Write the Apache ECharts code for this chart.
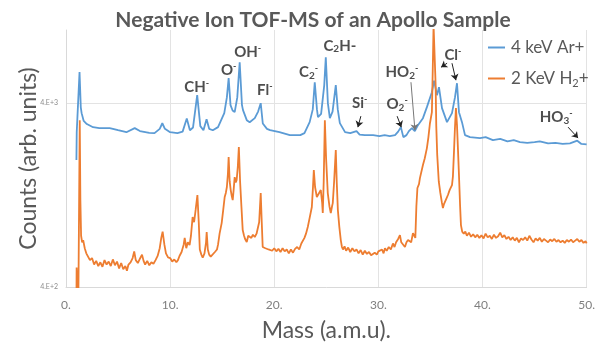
<!DOCTYPE html>
<html>
<head>
<meta charset="utf-8">
<script src="https://cdn.jsdelivr.net/npm/echarts@6/dist/echarts.min.js"></script>
<style>
  html, body { margin: 0; padding: 0; background: #fff; }
  #chart { width: 598px; height: 347px; }
</style>
</head>
<body>
<div id="chart"></div>
<script>
// 4 keV Ar+ spectrum (blue)
const arMass = [1.00,1.03,1.20,1.30,1.42,1.50,1.70,2.0,2.6,3.2,4.2,5.0,5.8,6.6,7.1,8.0,8.5,9.0,9.25,9.5,10.0,10.7,11.2,11.6,11.9,12.2,12.6,12.9,13.2,13.5,13.75,14.1,14.6,15.2,15.45,15.62,15.8,16.0,16.2,16.45,16.68,16.9,17.0,17.36,17.64,18.13,18.45,18.7,18.9,19.3,19.6,20.5,21.5,22.5,22.9,23.4,23.7,23.89,24.1,24.2,24.5,24.8,24.95,25.15,25.34,25.6,25.91,26.1,26.3,26.8,27.3,27.9,28.2,28.7,29.5,30.1,30.6,31.1,31.6,31.9,32.16,32.4,32.7,32.93,33.22,33.5,33.8,34.28,34.66,35.14,35.35,35.63,35.82,36.11,36.59,37.07,37.36,37.55,37.74,38.03,38.32,38.8,39.76,40.3,41.0,41.7,42.4,43.0,43.6,44.3,45.0,45.5,46.3,47.0,47.7,48.4,49.1,49.5,50.0];
const arCounts = [1960,2790,2820,5900,3800,3530,3200,3080,2960,2925,2925,2850,2780,2925,2820,2760,2750,2900,3110,2900,2780,2750,2800,3300,2850,2950,4420,3000,2850,3274,2900,2850,2962,3530,4300,5470,3900,3650,3574,4300,6680,3900,3664,3233,3150,3315,3600,4000,3100,2900,2853,2783,2680,2680,2750,3153,3700,5200,3700,3357,3500,5000,7113,4000,3315,3600,5010,3700,3114,2783,2748,2820,2700,2680,2680,2650,2680,2650,2680,2800,2962,2614,2680,2818,2925,2818,3037,3315,3805,4590,5300,4420,4885,3757,3153,3530,4310,5135,3574,3153,2680,2614,2582,2614,2520,2560,2480,2520,2456,2430,2456,2480,2420,2430,2400,2420,2500,2400,2390];

// 2 KeV H2+ spectrum (orange)
const h2Mass = [1.0,1.02,1.12,1.18,1.28,1.32,1.38,1.45,1.55,1.65,1.8,1.95,2.1,2.3,2.5,2.7,2.9,3.1,3.3,3.5,3.7,3.9,4.1,4.3,4.5,4.7,4.9,5.1,5.3,5.5,5.7,5.85,6.0,6.2,6.4,6.55,6.7,6.9,7.1,7.3,7.45,7.6,7.8,8.0,8.2,8.4,8.6,8.8,9.0,9.15,9.28,9.45,9.6,9.8,10.0,10.2,10.4,10.6,10.75,10.9,11.1,11.3,11.4,11.55,11.7,11.87,12.0,12.16,12.3,12.45,12.62,12.75,12.85,13.0,13.13,13.3,13.45,13.51,13.62,13.75,13.9,14.09,14.3,14.5,14.6,14.75,14.95,15.1,15.24,15.35,15.45,15.55,15.62,15.72,15.82,15.92,16.01,16.1,16.2,16.3,16.39,16.5,16.6,16.72,16.85,16.97,17.1,17.2,17.36,17.5,17.64,17.8,17.95,18.13,18.3,18.41,18.55,18.7,18.8,18.89,19.0,19.15,19.28,19.45,19.6,19.8,20.0,20.2,20.4,20.6,20.8,21.0,21.2,21.4,21.6,21.8,22.0,22.2,22.4,22.6,22.74,22.9,23.05,23.22,23.4,23.61,23.72,23.8,23.92,24.09,24.25,24.47,24.6,24.66,24.75,24.86,24.98,25.14,25.3,25.43,25.55,25.62,25.75,25.91,26.0,26.11,26.25,26.39,26.5,26.6,26.75,26.9,27.1,27.3,27.5,27.7,27.9,28.1,28.3,28.5,28.7,28.9,29.1,29.3,29.47,29.65,29.85,30.0,30.14,30.35,30.5,30.63,30.8,31.0,31.2,31.4,31.55,31.7,31.9,32.07,32.2,32.35,32.55,32.7,32.85,33.03,33.15,33.32,33.45,33.55,33.65,33.75,33.9,33.99,34.1,34.28,34.45,34.66,34.8,34.95,35.14,35.22,35.3,35.42,35.5,35.56,35.65,35.8,35.95,36.1,36.2,36.3,36.39,36.5,36.68,36.85,37.0,37.07,37.16,37.26,37.35,37.45,37.55,37.65,37.74,37.85,37.93,38.05,38.2,38.35,38.5,38.7,38.9,39.1,39.3,39.5,39.7,39.9,40.1,40.3,40.5,40.7,40.9,41.1,41.3,41.5,41.7,41.9,42.1,42.3,42.5,42.7,42.9,43.1,43.3,43.5,43.7,43.9,44.1,44.3,44.5,44.7,44.9,45.1,45.3,45.5,45.7,45.9,46.1,46.3,46.5,46.7,46.9,47.1,47.3,47.5,47.7,47.9,48.1,48.3,48.5,48.7,48.9,49.1,49.3,49.5,49.7,49.9,50.0];
const h2Counts = [300,510,520,300,300,3230,1200,760,700,720,650,610,600,560,575,530,555,520,545,515,560,530,550,520,565,525,550,505,540,500,520,490,530,545,575,625,560,540,570,600,555,530,555,525,545,535,560,590,650,740,800,680,610,580,575,550,565,545,560,590,620,680,740,650,700,676,760,960,900,1050,1266,900,640,600,577,610,700,796,640,600,585,577,620,640,680,780,891,1050,1235,1300,1400,1650,2035,1500,1347,1250,1188,1350,1585,1480,1527,1800,2307,1500,1089,816,760,730,703,760,748,740,770,748,780,796,900,1298,900,660,675,650,665,640,655,630,650,625,645,620,650,625,640,610,640,615,645,660,640,690,703,740,780,848,950,1089,1400,1730,1400,1235,1260,1347,1150,1010,1500,3233,2000,1298,1100,1010,1100,1144,1500,2222,1500,1048,850,720,660,640,665,630,655,620,650,625,640,610,635,600,630,605,620,595,590,615,600,625,615,640,610,650,630,660,640,690,660,700,730,766,700,690,660,700,720,738,700,786,760,740,1100,1382,1450,1565,1600,1842,2000,2278,2600,3100,3574,6000,10600,10600,5000,3000,2100,1500,1300,1150,1075,1130,1116,1200,1266,1350,1380,1434,1600,2167,2900,3757,3037,2200,1625,1100,869,800,780,800,760,790,750,775,745,770,740,765,735,780,745,760,730,770,740,755,790,745,765,730,750,720,745,715,740,700,735,720,745,715,760,725,700,735,715,740,705,730,715,700,725,710,730,705,720,700,715,695,720,705,725,700,715,730,705,720,695,710,690];

// axes
const xTicks = [0, 10, 20, 30, 40, 50];
const yTicks = [400, 4000];
const yTickLabels = ['4.E+2', '4.E+3'];

// ion annotations
const ionText = ['CH{p|-}', 'O{p|-}', 'OH{p|-}', 'Fl{p|-}', 'C{b|2}{p|-}', 'C{b|2}H-', 'Si{p|-}', 'O{b|2}{p|-}', 'HO{b|2}{p|-}', 'Cl{p|-}', 'HO{b|3}{p|-}'];
const ionMass = [12.55, 15.62, 17.45, 19.09, 23.3, 26.3, 28.2, 31.8, 32.26, 37.16, 47.07];
const ionCounts = [4885, 6045, 7572, 4706, 5896, 8165, 4000, 3950, 5896, 7290, 3357];

// arrows: from (mass, counts) to (mass, counts)
const arrowMass0 = [28.32, 31.8, 33.13, 36.6, 37.07, 48.22];
const arrowCounts0 = [3400, 3398, 5200, 6596, 6596, 2962];
const arrowMass1 = [28.03, 32.2, 33.51, 36.02, 37.45, 49.18];
const arrowCounts1 = [2962, 2962, 2853, 6276, 5333, 2582];
const arrowColor = ['#222', '#222', '#777', '#222', '#222', '#222'];

const FONT = 'Lato';
const chart = echarts.init(document.getElementById('chart'));

const option = {
  animation: false,
  textStyle: { fontFamily: FONT },
  title: {
    text: 'Negative Ion TOF-MS of an Apollo Sample',
    left: 308,
    top: 5,
    textAlign: 'center',
    textStyle: { fontFamily: FONT, fontSize: 21, fontWeight: 'bold', color: '#595959' }
  },
  legend: {
    orient: 'vertical',
    left: 483,
    top: 34,
    itemGap: 14,
    itemWidth: 17,
    itemHeight: 2,
    icon: 'rect',
    data: ['4 keV Ar+', '2 KeV H2+'],
    formatter: function (name) {
      return name === '2 KeV H2+' ? '2 KeV H{b|2}+' : name;
    },
    textStyle: {
      fontFamily: FONT, fontSize: 17, color: '#595959', padding: [0, 0, 0, 1],
      rich: { b: { fontSize: 11, verticalAlign: 'bottom', padding: [9, 0, 0, 0], color: '#595959', fontFamily: FONT } }
    }
  },
  grid: { left: 66, right: 11, top: 30, bottom: 60 },
  xAxis: {
    type: 'value',
    min: 0, max: 50, interval: 10,
    name: 'Mass (a.m.u).',
    nameLocation: 'middle',
    nameGap: 32,
    nameTextStyle: { fontFamily: FONT, fontSize: 23, color: '#595959' },
    axisLine: { show: true, lineStyle: { color: '#d9d9d9' } },
    axisTick: { show: false },
    axisLabel: { margin: 12, fontSize: 12, color: '#7f7f7f', formatter: v => v + '.' },
    splitLine: { show: true, lineStyle: { color: '#e3e3e3' } }
  },
  yAxis: {
    type: 'log',
    min: 400, max: 10000,
    name: 'Counts (arb. units)',
    nameLocation: 'middle',
    nameGap: 26,
    nameMoveOverlap: false,
    nameTextStyle: { fontFamily: FONT, fontSize: 23, color: '#595959' },
    axisLine: { show: true, lineStyle: { color: '#d9d9d9' } },
    axisTick: { show: false, customValues: yTicks },
    axisLabel: {
      customValues: yTicks,
      margin: 8, fontSize: 7, color: '#8c8c8c',
      formatter: v => yTickLabels[yTicks.findIndex(t => Math.abs(t - v) < 1)] || ''
    },
    splitLine: { show: false }
  },
  series: [
    {
      name: '4 keV Ar+',
      type: 'line',
      data: arMass.map((m, i) => [m, arCounts[i]]),
      showSymbol: false,
      symbol: 'none',
      color: '#5b9bd5',
      lineStyle: { width: 1.8, color: '#5b9bd5' },
      markLine: {
        silent: true,
        symbol: 'none',
        label: { show: false },
        lineStyle: { color: '#e3e3e3', width: 1, type: 'solid' },
        data: [{ yAxis: yTicks[1] }],
        z: 0
      },
      z: 2
    },
    {
      name: '2 KeV H2+',
      type: 'line',
      data: h2Mass.map((m, i) => [m, h2Counts[i]]),
      showSymbol: false,
      symbol: 'none',
      color: '#ed7d31',
      lineStyle: { width: 1.8, color: '#ed7d31' },
      z: 3
    },
    {
      type: 'lines',
      coordinateSystem: 'cartesian2d',
      symbol: ['none', 'arrow'],
      symbolSize: 6,
      silent: true,
      z: 5,
      data: arrowMass0.map((m, i) => ({
        coords: [[m, arrowCounts0[i]], [arrowMass1[i], arrowCounts1[i]]],
        lineStyle: { color: arrowColor[i], width: 1, opacity: 1 }
      }))
    },
    {
      type: 'scatter',
      symbolSize: 0,
      silent: true,
      z: 6,
      data: ionMass.map((m, i) => [m, ionCounts[i]]),
      label: {
        show: true,
        position: 'inside',
        formatter: p => ionText[p.dataIndex],
        fontFamily: FONT, fontSize: 15, fontWeight: 'bold', color: '#222',
        rich: {
          p: { fontSize: 9, fontWeight: 'bold', color: '#222', verticalAlign: 'top', padding: [0, 0, 8, 0], fontFamily: FONT },
          b: { fontSize: 10, fontWeight: 'bold', color: '#222', verticalAlign: 'bottom', padding: [6, 0, 0, 0], fontFamily: FONT }
        }
      }
    }
  ]
};

chart.setOption(option);
</script>
</body>
</html>
